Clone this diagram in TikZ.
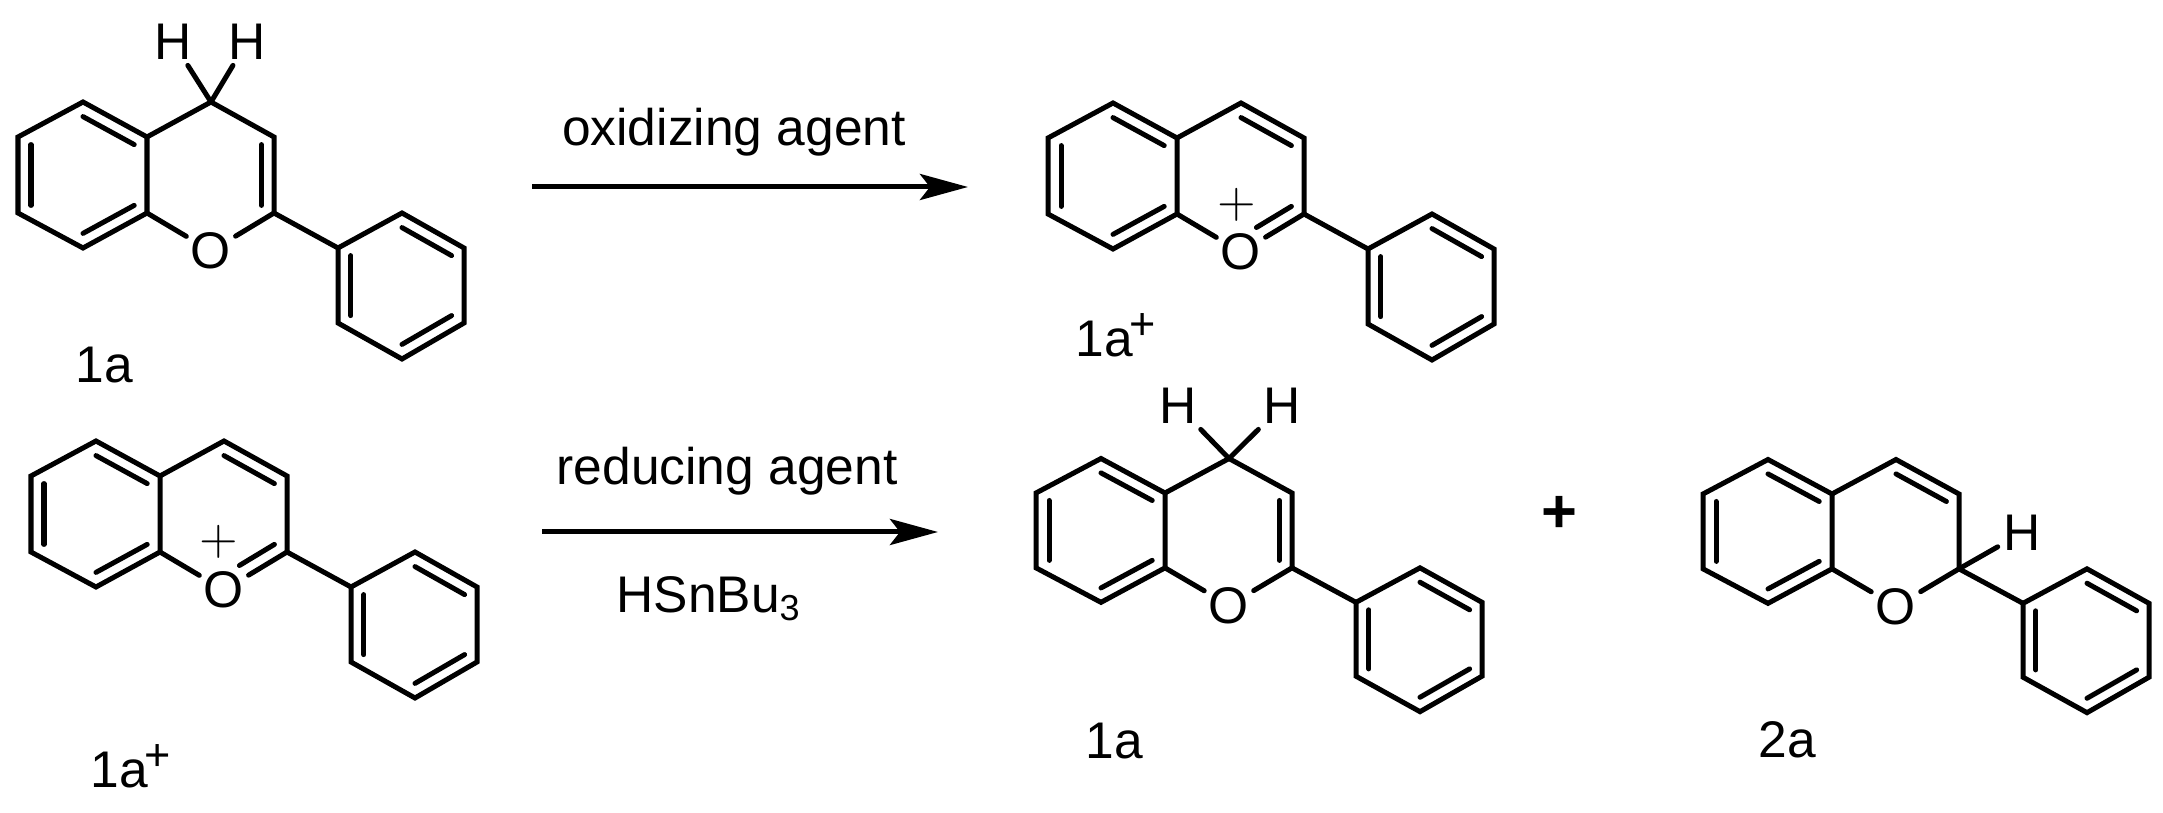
\documentclass[tikz,border=0pt]{standalone}
\usepackage{fontspec}
\setmainfont{Liberation Sans}
\usetikzlibrary{calc,arrows.meta}
\tikzset{bond/.style={line width=.05cm, line cap=round, line join=miter},
	rxn/.style={line width=.05cm, -{Stealth[length=.48cm, width=.26cm, inset=.1cm]}},
	oxy/.style={circle, inner sep=0pt, minimum size=.56cm},
	hyd/.style={inner sep=.05cm},
	txt/.style={inner sep=0pt, anchor=base}}
% second line of a double bond, pulled towards the ring centre #3
\newcommand{\innerline}[3]{\draw[bond] ($(#1)!.2!(#3)$) -- ($(#2)!.2!(#3)$);}
\newcommand{\chg}{\kern-.04cm\raisebox{.17cm}{\fontsize{12.8pt}{15pt}\selectfont +}}
% ring carbons, oxygen and the phenyl group of one molecule, #1 is its prefix
\newcommand{\skeleton}[1]{
	\coordinate (#1v1) at (0,0);
	\coordinate (#1v2) at (65,-35);
	\coordinate (#1v3) at (129,0);
	\coordinate (#1v4) at (129,76);
	\coordinate (#1v5) at (65,111);
	\coordinate (#1v6) at (0,76);
	\coordinate (#1v7) at (193,-35);
	\coordinate (#1v8) at (256,0);
	\coordinate (#1v9) at (256,76);
	\coordinate (#1v10) at (320,111);
	\coordinate (#1v11) at (384,76);
	\coordinate (#1v12) at (446,111);
	\coordinate (#1v13) at (446,186);
	\coordinate (#1v14) at (384,222);
	\coordinate (#1v15) at (320,186);
	\coordinate (#1r1) at (65,38);
	\coordinate (#1r2) at (193,38);
	\coordinate (#1r3) at (384,149);
	\node[oxy] (#1O) at (193,114) {O};
	\draw[bond] (#1v1) -- (#1v2) -- (#1v3) -- (#1v4) -- (#1v5) -- (#1v6) -- cycle;
	\draw[bond] (#1v3) -- (#1v7) -- (#1v8) -- (#1v9);
	\draw[bond] (#1v9) -- (#1O) -- (#1v4);
	\draw[bond] (#1v10) -- (#1v11) -- (#1v12) -- (#1v13) -- (#1v14) -- (#1v15) -- cycle;
	\draw[bond] (#1v9) -- (#1v10);
	\innerline{#1v2}{#1v3}{#1r1}
	\innerline{#1v4}{#1v5}{#1r1}
	\innerline{#1v6}{#1v1}{#1r1}
	\innerline{#1v11}{#1v12}{#1r3}
	\innerline{#1v13}{#1v14}{#1r3}
	\innerline{#1v15}{#1v10}{#1r3}
}
\begin{document}
\begin{tikzpicture}[x=.01cm, y=-.01cm, font=\fontsize{14.65pt}{17pt}\selectfont]
	\useasboundingbox (0,0) rectangle (2163,813);
%% Molecules
	\begin{scope}[shift={(18,137)}]
		\skeleton{a}
		\innerline{av8}{av9}{ar2}
	\end{scope}
	\begin{scope}[shift={(1048,138)}]
		\skeleton{b}
		\innerline{bv7}{bv8}{br2}
		\draw[bond, shorten >=.18cm] ($(bv9)!.2!(br2)$) -- ($(bO)!.2!(br2)$);
	\end{scope}
	\begin{scope}[shift={(31,476)}]
		\skeleton{c}
		\innerline{cv7}{cv8}{cr2}
		\draw[bond, shorten >=.18cm] ($(cv9)!.2!(cr2)$) -- ($(cO)!.2!(cr2)$);
	\end{scope}
	\begin{scope}[shift={(1036,493)}, yscale=.985]
		\skeleton{d}
		\innerline{dv8}{dv9}{dr2}
	\end{scope}
	\begin{scope}[shift={(1703,494)}, yscale=.985]
		\skeleton{e}
		\innerline{ev7}{ev8}{er2}
	\end{scope}
%% Hydrogens
	\node[hyd] (h1) at (173,42) {H};
	\node[hyd] (h2) at (247,42) {H};
	\node[hyd] (h3) at (1178,406) {H};
	\node[hyd] (h4) at (1282,406) {H};
	\node[hyd] (h5) at (2022,533) {H};
	\draw[bond] (av7) -- (h1);
	\draw[bond] (av7) -- (h2);
	\draw[bond] (dv7) -- (h3);
	\draw[bond] (dv7) -- (h4);
	\draw[bond] (ev9) -- (h5);
%% Charges
	\node[inner sep=0pt] (p1) at (1237,205) {$+$};
	\node[inner sep=0pt] (p2) at (219,542) {$+$};
	\node[inner sep=0pt, font=\fontsize{17.5pt}{20pt}\selectfont\bfseries] (p3) at (1559,514) {+};
%% Names
	\node[txt, anchor=base west] (n1) at (75,383) {1a};
	\node[txt, anchor=base west] (n2) at (1075,357) {1a\chg};
	\node[txt, anchor=base west] (n3) at (90,788) {1a\chg};
	\node[txt, anchor=base west] (n4) at (1085,759) {1a};
	\node[txt, anchor=base west] (n5) at (1758,758) {2a};
%% Arrows
	\coordinate (s1) at (532,187);
	\coordinate (e1) at (968,187);
	\coordinate (s2) at (542,532);
	\coordinate (e2) at (938,532);
	\draw[rxn] (s1) -- (e1);
	\draw[rxn] (s2) -- (e2);
	\node[txt] (t1) at (734,146) {oxidizing agent};
	\node[txt] (t2) at (727,485) {reducing agent};
	\node[txt] (t3) at (709,613) {HSnBu\textsubscript{3}};
\end{tikzpicture}
\end{document}
